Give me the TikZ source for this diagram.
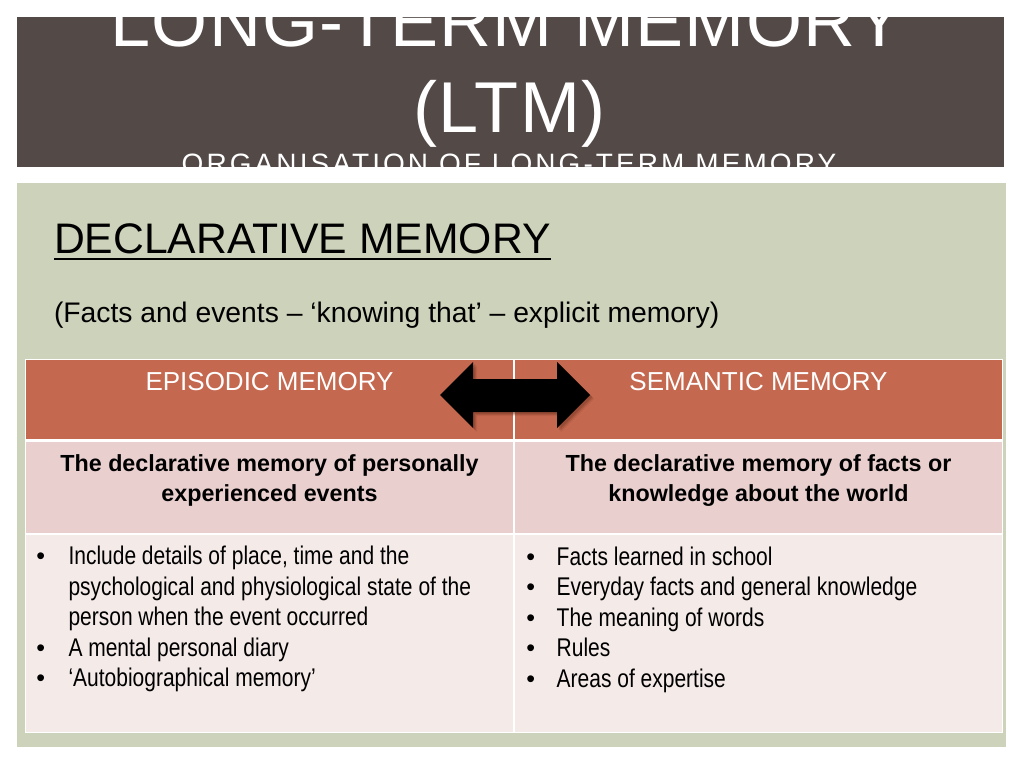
\documentclass[tikz,border=0pt]{standalone}
\usepackage{fontspec}
\setmainfont{Liberation Sans}
\newfontfamily\narrowfont[FakeStretch=0.82]{Liberation Sans}
\newfontfamily\spacedfont[LetterSpace=11]{Liberation Sans}
\newfontfamily\titlefont[LetterSpace=1.8]{Liberation Sans}
\definecolor{band}{RGB}{83,74,72}
\definecolor{panel}{RGB}{205,210,186}
\definecolor{hdr}{RGB}{197,104,80}
\definecolor{rowb}{RGB}{233,208,207}
\definecolor{rowc}{RGB}{244,234,232}
\definecolor{shadowc}{RGB}{110,50,30}
\tikzset{
  txt/.style={inner sep=0pt, outer sep=0pt},
  titletxt/.style={txt, text=white, font=\fontsize{72}{80}\selectfont\titlefont},
  hdrtxt/.style={txt, text=white, font=\fontsize{26}{30}\selectfont},
  boldtxt/.style={txt, anchor=base, font=\fontsize{23.3}{30}\selectfont\bfseries},
  bultxt/.style={txt, anchor=base west, font=\fontsize{25.6}{30.5}\selectfont\narrowfont},
  bul/.style={txt, anchor=base, font=\fontsize{25}{28}\selectfont},
}
\begin{document}
\begin{tikzpicture}[x=1pt,y=-1pt]
\useasboundingbox (0,0) rectangle (1024,768);
\fill[white] (0,0) rectangle (1024,768);
% title band
\fill[band] (17,17) rectangle (1004,167);
\begin{scope}
  \clip (17,17) rectangle (1004,167);
  \node[titletxt, anchor=base] (t1) at (507,47) {LONG-TERM MEMORY};
  \node[titletxt, anchor=base] (t2) at (509.5,132) {(LTM)};
  \node[txt, text=white, anchor=base, font=\fontsize{28}{32}\selectfont\spacedfont] (t3) at (509,173.5) {ORGANISATION OF LONG-TERM MEMORY};
\end{scope}
% panel
\fill[panel] (17,183) rectangle (1006,747);
\node[txt, anchor=base west, font=\fontsize{42.7}{48}\selectfont] (decl) at (54,253.3) {DECLARATIVE MEMORY};
\draw[line width=2.3pt] ([yshift=-5.6pt]decl.base west) -- ([yshift=-5.6pt]decl.base east);
\node[txt, anchor=base west, font=\fontsize{28.3}{32}\selectfont] (facts) at (54,322.7) {(Facts and events – ‘knowing that’ – explicit memory)};
% table
\fill[white] (24.5,358.5) rectangle (1003,733);
\fill[hdr] (25.5,359.5) rectangle (513.3,438.5);
\fill[hdr] (515.3,359.5) rectangle (1002,438.5);
\fill[rowb] (25.5,441.5) rectangle (513.3,532.8);
\fill[rowb] (515.3,441.5) rectangle (1002,532.8);
\fill[rowc] (25.5,534.5) rectangle (513.3,732);
\fill[rowc] (515.3,534.5) rectangle (1002,732);
\node[hdrtxt, anchor=base] (h1) at (269.5,390) {EPISODIC MEMORY};
\node[hdrtxt, anchor=base] (h2) at (758.5,390) {SEMANTIC MEMORY};
\node[boldtxt] (d1a) at (269.5,471.7) {The declarative memory of personally};
\node[boldtxt] (d1b) at (269.5,501.7) {experienced events};
\node[boldtxt] (d2a) at (758.5,471.7) {The declarative memory of facts or};
\node[boldtxt] (d2b) at (758.5,501.7) {knowledge about the world};
% left bullets
\node[bul] (lb1) at (40.7,564.5) {•};
\node[bultxt] (l1a) at (68.5,564.5) {Include details of place, time and the};
\node[bultxt] (l1b) at (68.5,595) {psychological and physiological state of the};
\node[bultxt] (l1c) at (68.5,625.5) {person when the event occurred};
\node[bul] (lb2) at (40.7,656) {•};
\node[bultxt] (l2) at (68.5,656) {A mental personal diary};
\node[bul] (lb3) at (40.7,686.5) {•};
\node[bultxt] (l3) at (68.5,686.5) {‘Autobiographical memory’};
% right bullets
\node[bul] (rb1) at (530.7,565) {•};
\node[bultxt] (r1) at (556.7,565) {Facts learned in school};
\node[bul] (rb2) at (530.7,595.5) {•};
\node[bultxt] (r2) at (556.7,595.5) {Everyday facts and general knowledge};
\node[bul] (rb3) at (530.7,626) {•};
\node[bultxt] (r3) at (556.7,626) {The meaning of words};
\node[bul] (rb4) at (530.7,656.5) {•};
\node[bultxt] (r4) at (556.7,656.5) {Rules};
\node[bul] (rb5) at (530.7,687) {•};
\node[bultxt] (r5) at (556.7,687) {Areas of expertise};
% double arrow with shadow
\foreach \d/\o in {4/0.12,3/0.2,2/0.3}{
  \fill[shadowc, opacity=\o, shift={(\d pt,-\d pt)}]
    (440,395) -- (473,362) -- (473,379) -- (557,379) -- (557,362) -- (590,395)
    -- (557,428) -- (557,412) -- (473,412) -- (473,428) -- cycle;
}
\fill[black]
  (440,395) -- (473,362) -- (473,379) -- (557,379) -- (557,362) -- (590,395)
  -- (557,428) -- (557,412) -- (473,412) -- (473,428) -- cycle;
\end{tikzpicture}
\end{document}
